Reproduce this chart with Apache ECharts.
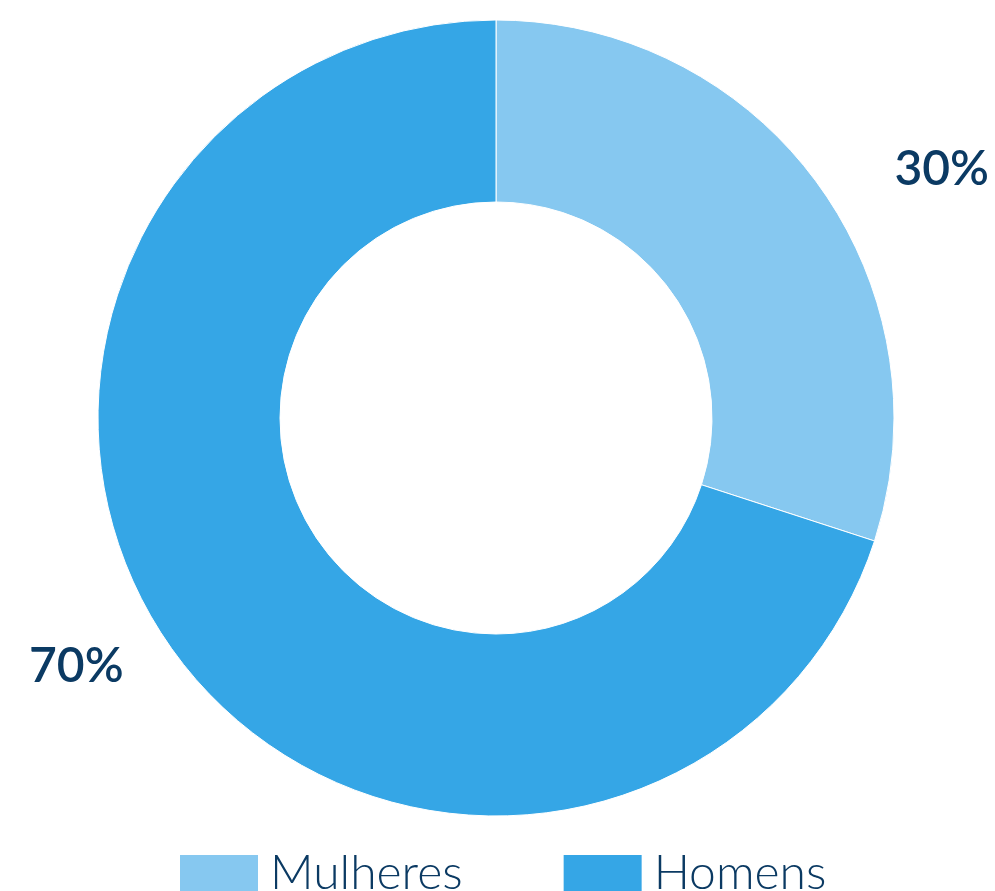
<!DOCTYPE html>
<html>
<head>
<meta charset="utf-8">
<script src="https://cdn.jsdelivr.net/npm/echarts@6/dist/echarts.min.js"></script>
<style>
  html, body { margin: 0; padding: 0; background: #fff; }
  #main { width: 995px; height: 891px; }
</style>
</head>
<body>
<div id="main"></div>
<script>
const categories = ['Mulheres', 'Homens']
const values = [30, 70]
const colors = ['#86C8F0', '#35A6E6']
// distância horizontal do rótulo por fatia
const labelLen2 = [52, 26]

const myChart = echarts.init(document.getElementById('main'))

const data = categories.map((c, i) => ({
  name: c,
  value: values[i],
  itemStyle: { color: colors[i] },
  labelLine: { show: false, length: 24, length2: labelLen2[i] }
}))

const option = {
  animation: false,
  legend: {
    data: categories,
    left: 178,
    top: 850,
    padding: 0,
    itemWidth: 80,
    itemHeight: 40,
    itemGap: 99,
    icon: 'rect',
    textStyle: {
      fontFamily: 'Lato',
      fontWeight: 300,
      fontSize: 48,
      color: '#0B3A63',
      padding: [0, 0, 6, 6]
    }
  },
  series: [{
    type: 'pie',
    center: [496, 418],
    radius: [216, 398],
    startAngle: 90,
    clockwise: true,
    avoidLabelOverlap: false,
    itemStyle: { borderColor: '#fff', borderWidth: 1 },
    label: {
      show: true,
      position: 'outside',
      formatter: '{d}%',
      fontFamily: 'Lato',
      fontWeight: 600,
      fontSize: 48,
      color: '#0B3A63'
    },
    labelLine: { show: false },
    emphasis: { disabled: true },
    data: data
  }]
}

myChart.setOption(option, true)
</script>
</body>
</html>
